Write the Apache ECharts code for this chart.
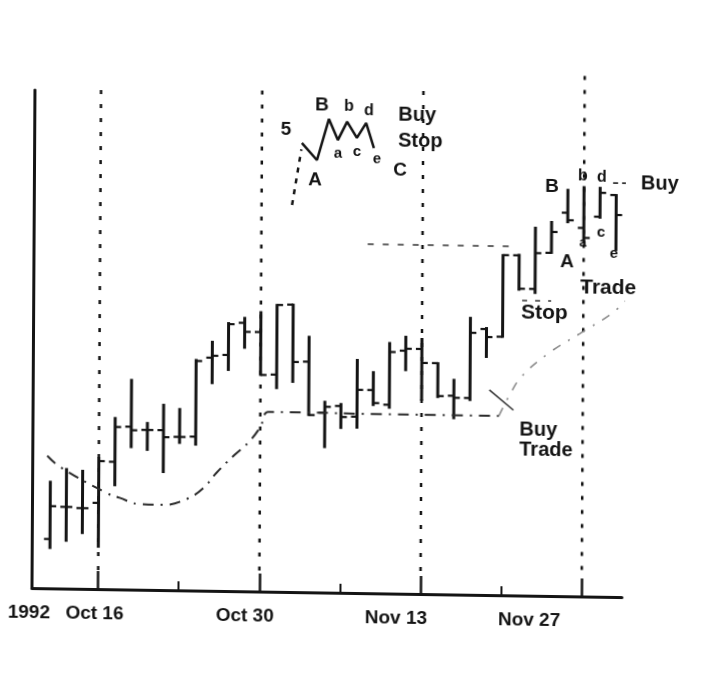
<!DOCTYPE html>
<html>
<head>
<meta charset="utf-8">
<script src="https://cdn.jsdelivr.net/npm/echarts@6/dist/echarts.min.js"></script>
<style>
  html, body { margin: 0; padding: 0; background: #ffffff; }
  #chart {
    width: 712px; height: 680px;
    transform: matrix(1, 0.0153, -0.006, 1, 0, 0);
    transform-origin: 356px 340px;
  }
</style>
</head>
<body>
<div id="chart"></div>
<script>
// Daily sessions, 13 Oct – 1 Dec 1992
const days = ['Oct 13','Oct 14','Oct 15','Oct 16','Oct 19','Oct 20','Oct 21','Oct 22','Oct 23',
  'Oct 26','Oct 27','Oct 28','Oct 29','Oct 30','Nov 2','Nov 3','Nov 4','Nov 5','Nov 6',
  'Nov 9','Nov 10','Nov 11','Nov 12','Nov 13','Nov 16','Nov 17','Nov 18','Nov 19','Nov 20',
  'Nov 23','Nov 24','Nov 25','Nov 26','Nov 27','Nov 30','Dec 1'];

const opens  = [9.9,16.4,16.2,17.3,25.6,32.7,32.1,32.1,30.8,30.9,46.8,47.4,53.9,52.1,43.6,57.7,46.3,36.1,37.5,35.4,40.8,37.9,48.8,49.2,46.4,39.9,39.5,53.4,51.9,68.3,61.6,68.9,77.0,74.0,76.3,80.7];
const highs  = [21.4,24.0,23.7,26.3,34.4,42.1,33.5,37.2,36.4,46.3,50.0,53.8,54.9,56.1,57.6,57.7,51.3,38.3,37.9,46.8,44.4,50.3,51.6,51.2,46.4,43.1,55.6,53.6,68.3,68.4,73.9,75.1,81.6,82.2,82.1,80.7];
const lows   = [8.1,9.6,11.2,8.5,20.9,28.6,28.1,23.7,29.6,29.3,41.7,44.4,48.9,43.5,40.9,42.2,35.6,29.2,33.1,33.2,37.8,37.3,44.9,39.0,39.6,35.4,39.1,47.8,51.9,61.4,60.8,68.9,75.1,71.2,76.1,69.7];
const closes = [16.5,16.4,16.2,25.7,32.6,32.0,32.1,30.7,30.8,46.1,47.2,53.6,52.1,43.5,57.6,46.2,35.6,37.3,35.3,40.8,38.2,48.5,49.2,46.4,39.8,39.5,52.6,51.8,68.3,61.6,68.8,73.1,75.5,72.0,81.1,76.7];

// Smoothed trend curve (session position, level): base and late upturn
const trendX = [-0.2,0.6,3.5,4.3,5.5,7.0,8.5,9.5,10.3,11.4,12.3,13.0,13.5,16,20,24,27.8];
const trendY = [26.6,24.4,19.3,18.4,17.2,17.1,18.4,20.6,23.7,27.3,30.0,33.0,36.1,36.1,36.0,36.0,36.0];
const upturnX = [27.8,28.5,29.2,30.8,32.8,34.8,35.8];
const upturnY = [36.0,40.5,44.0,48.6,52.8,57.0,60.1];

// Wave sketch: lead-in and A-B-a-b-c-d-e zigzag
const waveLeadX = [14.89, 15.45];
const waveLeadY = [77.7, 88.9];
const waveX = [15.48,16.42,17.15,17.71,18.28,18.89,19.46,19.95];
const waveY = [90.2,86.8,95.1,90.9,94.6,91.4,94.4,89.4];

// Fortnight markers, mid-fortnight ticks and their labels
const markedDays = [3, 13, 23, 33];
const markerTops = [100.2, 100.6, 101.0, 104.5];
const midWeeks = [8, 18, 28];
const tickLabels = ['Oct 16', 'Oct 30', 'Nov 13', 'Nov 27'];
const yearLabel = '1992';

// Reference levels
const upperLevel = 70.1;
const stopLevel = 59.2;
const buyLevel = 83.1;

const ink = '#141414';
const font = '"Liberation Sans", Arial, Helvetica, sans-serif';

// label anchor slots along the date axis
const labelSlots = [2.79, 12.11, 21.49, 29.75];

const ohlc = days.map((d, i) => [i, opens[i], highs[i], lows[i], closes[i]]);
const trend = trendX.map((x, i) => [x, trendY[i]]);
const upturn = upturnX.map((x, i) => [x, upturnY[i]]);
const waveLead = waveLeadX.map((x, i) => [x, waveLeadY[i]]);
const wave = waveX.map((x, i) => [x, waveY[i]]);
const markers = markedDays.map((d, i) => [d, markerTops[i]]);

const chart = echarts.init(document.getElementById('chart'), null, { renderer: 'canvas' });

function txt(text, x, y, size, align) {
  return {
    type: 'text', x: x, y: y,
    style: {
      text: text, fill: ink, font: 'bold ' + size + 'px ' + font,
      textAlign: align || 'center', textVerticalAlign: 'middle'
    }
  };
}

const option = {
  animation: false,
  backgroundColor: '#ffffff',
  grid: { left: 33.5, top: 95, width: 590, height: 498 },
  xAxis: [{
    type: 'value', min: -1.1, max: 35.5,
    axisLine: { show: true, onZero: false, lineStyle: { color: ink, width: 3 } },
    axisTick: { show: true, inside: true, length: 9, customValues: midWeeks, lineStyle: { color: ink, width: 2 } },
    axisLabel: {
      show: true, customValues: labelSlots, margin: 15,
      color: ink, fontFamily: font, fontWeight: 'bold', fontSize: 19,
      formatter: function (v) {
        let best = 0;
        labelSlots.forEach((s, i) => { if (Math.abs(s - v) < Math.abs(labelSlots[best] - v)) best = i; });
        return tickLabels[best];
      }
    },
    splitLine: { show: false }
  }, {
    type: 'value', min: -1.1, max: 35.5, position: 'bottom',
    axisLine: { show: false, onZero: false },
    axisTick: { show: true, inside: true, length: 18, customValues: markedDays, lineStyle: { color: ink, width: 2.5 } },
    axisLabel: { show: false },
    splitLine: { show: false }
  }],
  yAxis: {
    type: 'value', min: 0, max: 100,
    axisLine: { show: true, onZero: false, lineStyle: { color: ink, width: 3 } },
    axisTick: { show: false }, axisLabel: { show: false }, splitLine: { show: false }
  },
  series: [
    {
      // dotted date markers rising from the axis
      type: 'custom', name: 'Markers', clip: false, silent: true,
      data: markers,
      renderItem: function (params, api) {
        const x = api.value(0);
        const top = api.coord([x, api.value(1)]);
        const bottom = api.coord([x, 0]);
        return {
          type: 'line',
          shape: { x1: top[0], y1: top[1], x2: bottom[0], y2: bottom[1] - 18 },
          style: { stroke: ink, lineWidth: 2.5, lineDash: [4, 10] }
        };
      }
    },
    {
      type: 'custom', name: 'Price', clip: false,
      data: ohlc,
      encode: { x: 0, y: [1, 2, 3, 4] },
      renderItem: function (params, api) {
        const x = api.value(0);
        const o = api.coord([x, api.value(1)]);
        const h = api.coord([x, api.value(2)]);
        const l = api.coord([x, api.value(3)]);
        const c = api.coord([x, api.value(4)]);
        const st = { stroke: ink, lineWidth: 2.2 };
        return {
          type: 'group',
          children: [
            { type: 'line', shape: { x1: h[0], y1: h[1] - 1, x2: l[0], y2: l[1] + 1 }, style: { stroke: ink, lineWidth: 3 } },
            { type: 'line', shape: { x1: o[0] - 6, y1: o[1], x2: o[0], y2: o[1] }, style: st },
            { type: 'line', shape: { x1: c[0], y1: c[1], x2: c[0] + 6, y2: c[1] }, style: st }
          ]
        };
      }
    },
    {
      type: 'line', name: 'Trend', data: trend, smooth: 0.4, symbol: 'none', clip: false,
      lineStyle: { color: '#2a2a2a', width: 2, type: [11, 7, 2, 7] },
      markLine: {
        silent: true, symbol: 'none', label: { show: false },
        data: [
          [{ coord: [19.6, upperLevel], lineStyle: { width: 1.6, type: [6, 9], color: '#333' } }, { coord: [28.6, upperLevel] }],
          [{ coord: [29.2, stopLevel], lineStyle: { width: 1.6, type: [5, 8], color: '#333' } }, { coord: [31.0, stopLevel] }],
          [{ coord: [27.2, 41.2], lineStyle: { width: 1.6, type: 'solid', color: '#333' } }, { coord: [28.7, 37.2] }]
        ]
      }
    },
    {
      type: 'line', name: 'Trend upturn', data: upturn, smooth: 0.4, symbol: 'none', clip: false,
      lineStyle: { color: '#8c8c8c', width: 1.6, type: [9, 9, 2, 9] }
    },
    {
      type: 'line', name: 'Buy level', data: [[34.8, buyLevel], [36.5, buyLevel]], symbol: 'none', clip: false,
      lineStyle: { color: '#333', width: 1.6, type: [5, 4, 12, 0] }
    },
    {
      type: 'line', name: 'Wave lead', data: waveLead, symbol: 'none', clip: false,
      lineStyle: { color: ink, width: 2.5, type: [5, 6] }
    },
    {
      type: 'line', name: 'Wave', data: wave, symbol: 'none', clip: false,
      lineStyle: { color: ink, width: 2.5 }
    }
  ],
  graphic: [
    txt(yearLabel, 30.6, 618, 19),
    txt('5', 284.7, 131, 19),
    txt('B', 320.6, 105.5, 19),
    txt('b', 347.6, 107, 16),
    txt('d', 367.6, 110.8, 16),
    txt('a', 336.9, 154.3, 15),
    txt('c', 355.9, 152, 15),
    txt('e', 375.9, 158.7, 15),
    txt('A', 314, 180.6, 19),
    txt('C', 399, 169.3, 19),
    txt('Buy', 397, 114.1, 20, 'left'),
    txt('Stop', 397, 140, 20, 'left'),
    txt('B', 551.1, 184, 19),
    txt('b', 582, 172.5, 16),
    txt('d', 601, 173.2, 16),
    txt('Buy', 640, 179.3, 20, 'left'),
    txt('c', 600.4, 229.3, 15),
    txt('a', 582.4, 239.5, 13),
    txt('A', 566.5, 258.8, 19),
    txt('e', 613.5, 250.1, 15),
    txt('Trade', 580, 284.6, 21, 'left'),
    txt('Stop', 521, 310.1, 21, 'left'),
    txt('Buy', 520, 427.2, 20, 'left'),
    txt('Trade', 520, 447.9, 20, 'left')
  ]
};

chart.setOption(option);
</script>
</body>
</html>
